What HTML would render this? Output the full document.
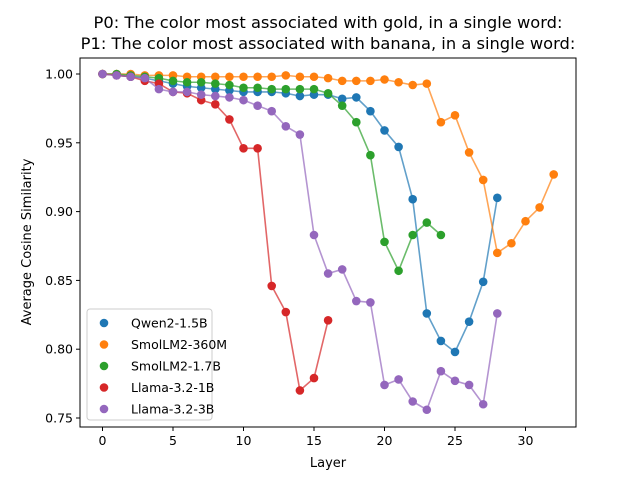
<!DOCTYPE html>
<html><head><meta charset="utf-8"><style>
body{margin:0;background:#fff;font-family:"DejaVu Sans",sans-serif}
</style></head><body>
<svg id="c" width="640" height="480" xmlns="http://www.w3.org/2000/svg" font-family="DejaVu Sans, sans-serif">
<text x="328" y="28" text-anchor="middle" font-size="16.3">P0: The color most associated with gold, in a single word:</text>
<text x="328" y="49" text-anchor="middle" font-size="16.3">P1: The color most associated with banana, in a single word:</text>
<g id="plot"></g>
<rect x="80" y="58" width="496" height="369" fill="none" stroke="#000" stroke-width="1"/>
<text x="328" y="467" text-anchor="middle" font-size="13">Layer</text>
<text transform="translate(31,242) rotate(-90)" text-anchor="middle" font-size="13">Average Cosine Similarity</text>
</svg>
<script>
const seriesNames=["Qwen2-1.5B","SmolLM2-360M","SmolLM2-1.7B","Llama-3.2-1B","Llama-3.2-3B"];
const colors=["#1f77b4","#ff7f0e","#2ca02c","#d62728","#9467bd"];
const qwen=[1.0,0.999,0.998,0.997,0.995,0.993,0.991,0.99,0.989,0.988,0.987,0.987,0.987,0.986,0.984,0.985,0.985,0.982,0.983,0.973,0.959,0.947,0.909,0.826,0.806,0.798,0.82,0.849,0.91];
const smol360=[1.0,1.0,1.0,0.999,0.999,0.999,0.998,0.998,0.998,0.998,0.998,0.998,0.998,0.999,0.998,0.998,0.997,0.995,0.995,0.995,0.996,0.994,0.992,0.993,0.965,0.97,0.943,0.923,0.87,0.877,0.893,0.903,0.927];
const smol17=[1.0,1.0,0.999,0.998,0.997,0.995,0.994,0.994,0.993,0.992,0.990,0.990,0.989,0.989,0.989,0.989,0.986,0.977,0.965,0.941,0.878,0.857,0.883,0.892,0.883];
const llama1=[1.0,0.999,0.998,0.995,0.993,0.987,0.986,0.981,0.978,0.967,0.946,0.946,0.846,0.827,0.770,0.779,0.821];
const llama3=[1.0,0.999,0.998,0.997,0.989,0.987,0.987,0.985,0.984,0.983,0.981,0.977,0.973,0.962,0.956,0.883,0.855,0.858,0.835,0.834,0.774,0.778,0.762,0.756,0.784,0.777,0.774,0.76,0.826];
const xTicks=[0,5,10,15,20,25,30];
const yTicks=[0.75,0.80,0.85,0.90,0.95,1.00];
const NS="http://www.w3.org/2000/svg";
const X=v=>102.5+v*14.1;
const Y=v=>74+(1-v)*1376;
const g=document.getElementById('plot');
function mk(t,a){const e=document.createElementNS(NS,t);for(const k in a)e.setAttribute(k,a[k]);g.appendChild(e);return e;}
xTicks.forEach(t=>{
 const l=mk('line',{x1:X(t),x2:X(t),y1:427,y2:431,stroke:'#000'});
 
 
 const tx=mk('text',{x:X(t),y:445,'text-anchor':'middle','font-size':12.5});tx.textContent=t;
 
 
});
yTicks.forEach(t=>{
 const l=mk('line',{x1:76,x2:80,y1:Y(t),y2:Y(t),stroke:'#000'});
 
 
 const tx=mk('text',{x:73,y:Y(t)+4.5,'text-anchor':'end','font-size':12.5});tx.textContent=t.toFixed(2);
 
 
});
const all=[qwen,smol360,smol17,llama1,llama3];
all.forEach((s,i)=>{
 const p=mk('polyline',{points:s.map((v,j)=>X(j)+','+Y(v)).join(' '),fill:'none',stroke:colors[i],'stroke-width':1.6,opacity:0.7});
 
 
 s.forEach((v,j)=>{
  const c=mk('circle',{cx:X(j),cy:Y(v),r:4.3,fill:colors[i]});
  
  
 });
});
const lg=mk('rect',{x:87,y:309,width:125,height:111,rx:3,fill:'#fff','fill-opacity':0.8,stroke:'#ccc'});


seriesNames.forEach((n,i)=>{
 const y=323+i*21.5;
 const c=mk('circle',{cx:104,cy:y,r:4.3,fill:colors[i]});
 
 
 const t=mk('text',{x:131,y:y+4.5,'font-size':12.5});t.textContent=n;
 
 
});
</script>
</body></html>
